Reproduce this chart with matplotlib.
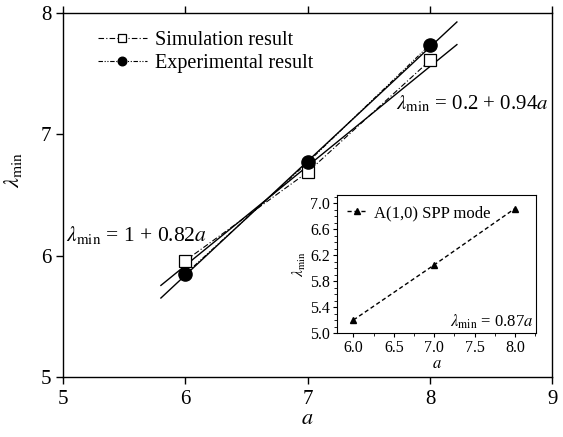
import numpy as np
import matplotlib
matplotlib.use("Agg")
import matplotlib.pyplot as plt
from matplotlib.ticker import MultipleLocator, FormatStrFormatter

plt.rcParams["font.family"] = ["Liberation Serif", "DejaVu Serif"]
plt.rcParams["mathtext.fontset"] = "stix"

# main data
a_vals = [6, 7, 8]
sim_vals = [5.96, 6.69, 7.61]
exp_vals = [5.85, 6.77, 7.74]

# linear fits: lambda = b0 + b1*a
fit_sim = (1.0, 0.82)
fit_exp = (0.2, 0.94)
fit_range = [5.8, 8.22]

# inset data
inset_a = [6, 7, 8]
inset_vals = [5.2, 6.05, 6.92]

fig = plt.figure(figsize=(5.63, 4.37), dpi=100)
ax = fig.add_axes([0.112, 0.137, 0.869, 0.833])

ax.plot(a_vals, sim_vals, color="black", lw=0.8, ls=(0, (5, 2, 1, 2)),
        marker="s", ms=8, mfc="white", mec="black", mew=0.9,
        label="Simulation result", zorder=3)
ax.plot(a_vals, exp_vals, color="black", lw=0.8, ls=(0, (4, 1.5, 1, 1.5, 1, 1.5)),
        marker="o", ms=9.5, mfc="black", mec="black",
        label="Experimental result", zorder=3)

xf = np.array(fit_range)
for b0, b1 in (fit_sim, fit_exp):
    ax.plot(xf, b0 + b1 * xf, color="black", lw=1.0, zorder=2)

ax.set_xlim(5, 9)
ax.set_ylim(5, 8)
ax.set_xticks([5, 6, 7, 8, 9])
ax.set_yticks([5, 6, 7, 8])
ax.tick_params(axis="both", labelsize=15, direction="out", length=5, width=1)
ax.tick_params(axis="x", top=True, pad=4)
ax.set_xlabel(r"$a$", fontsize=16, labelpad=1)
ax.set_ylabel(r"$\lambda_{\rm min}$", fontsize=16)
ax.yaxis.set_label_coords(-0.08, 0.57)
for s in ax.spines.values():
    s.set_linewidth(1.0)

ax.legend(loc="upper left", bbox_to_anchor=(0.035, 1.0), frameon=False,
          fontsize=14.5, handlelength=2.4, handletextpad=0.4,
          labelspacing=0.2, markerscale=0.65)

ax.text(5.02, 6.08, r"$\lambda_{\rm min}$ = 1 + 0.82$a$", fontsize=15.5, va="bottom")
ax.text(7.72, 7.17, r"$\lambda_{\rm min}$ = 0.2 + 0.94$a$", fontsize=15, va="bottom")

# inset
ins = fig.add_axes([0.599, 0.238, 0.353, 0.316])
ins.plot(inset_a, inset_vals, color="black", lw=1.0, ls=(0, (3, 2)),
         marker="^", ms=5, mfc="black", mec="black", label="A(1,0) SPP mode")
ins.set_xlim(5.8, 8.26)
ins.set_ylim(5.0, 7.13)
ins.set_xticks(np.arange(6.0, 8.01, 0.5))
ins.xaxis.set_minor_locator(MultipleLocator(0.25))
ins.set_yticks(np.arange(5.0, 7.01, 0.4))
ins.yaxis.set_minor_locator(MultipleLocator(0.1))
ins.yaxis.set_major_formatter(FormatStrFormatter("%.1f"))
ins.xaxis.set_major_formatter(FormatStrFormatter("%.1f"))
ins.tick_params(axis="both", which="major", labelsize=11.5, direction="out", length=3, pad=2)
ins.tick_params(axis="both", which="minor", direction="out", length=2)
ins.set_xlabel(r"$a$", fontsize=12, labelpad=0)
ins.set_ylabel(r"$\lambda_{\rm min}$", fontsize=11, labelpad=2)
ins.legend(loc="upper left", frameon=False, fontsize=12, handlelength=1.2,
           handletextpad=0.4, borderaxespad=0.2)
ins.text(7.2, 5.1, r"$\lambda_{\rm min}$ = 0.87$a$", fontsize=12)

fig.savefig("out.png", dpi=100)
